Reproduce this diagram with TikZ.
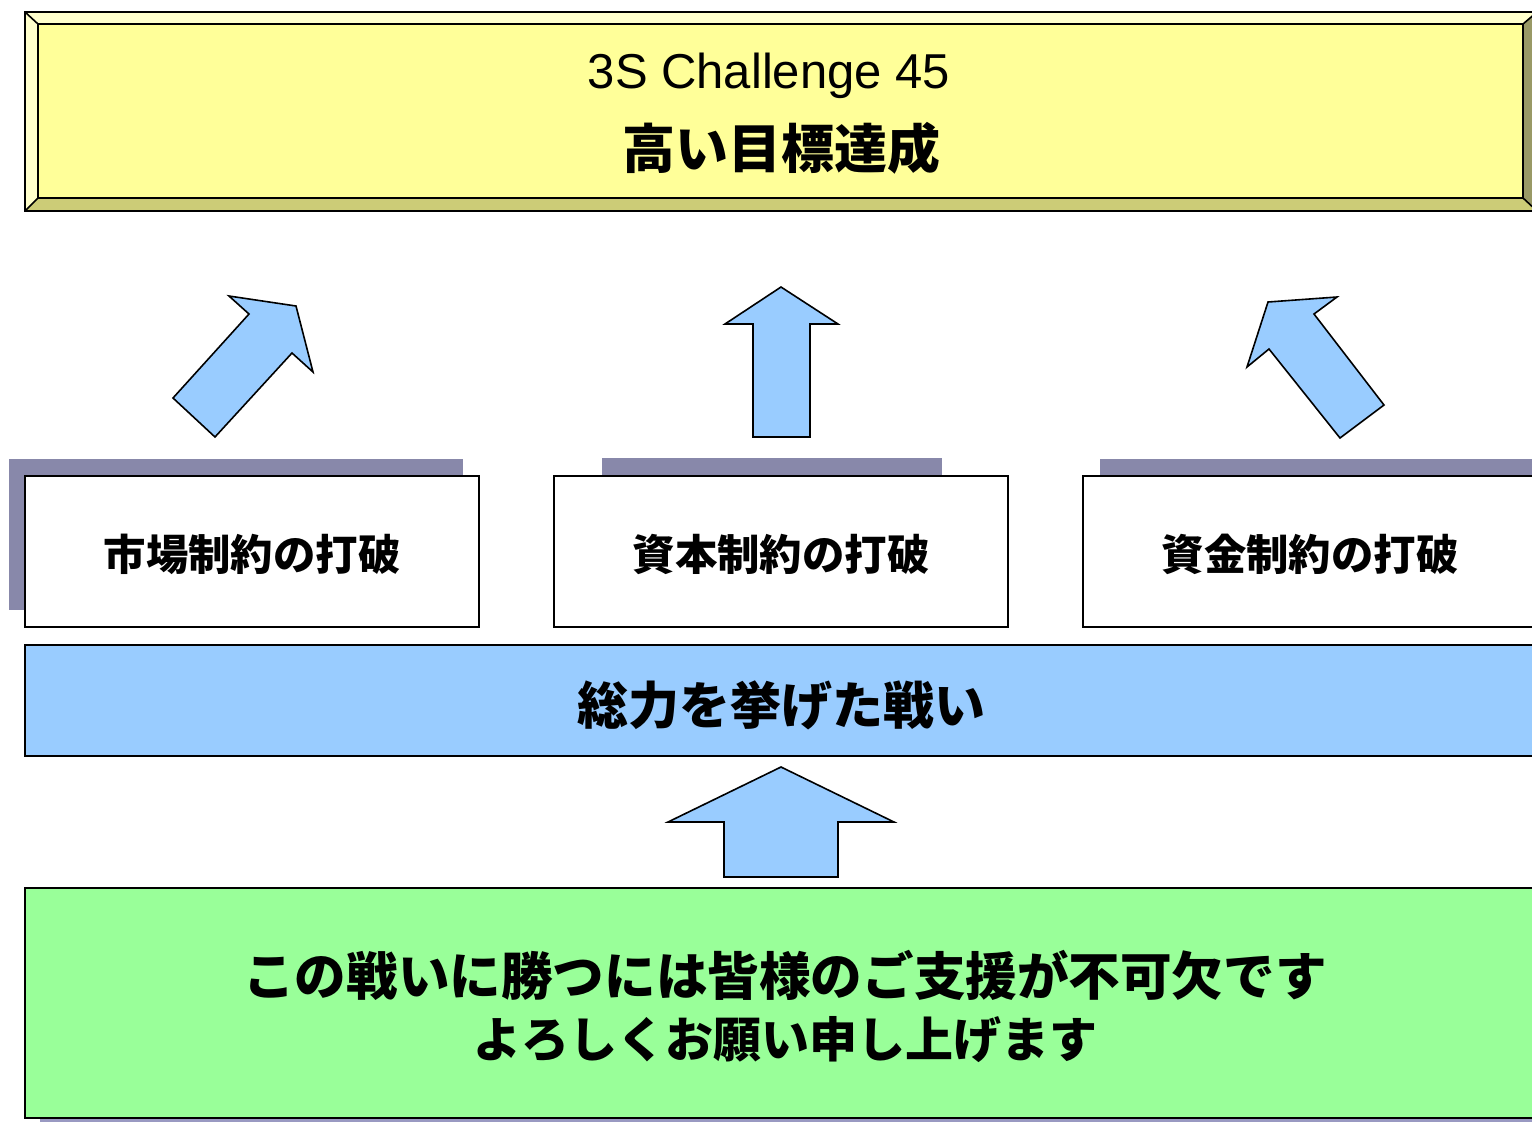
\documentclass[tikz,border=0pt]{standalone}
\usepackage{fontspec}
\setmainfont{Liberation Sans}
\newfontfamily\cjk{Noto Sans CJK JP}
\definecolor{topfill}{HTML}{FFFF99}
\definecolor{bevlight}{HTML}{FFFFCC}
\definecolor{bevbottom}{HTML}{CCCC77}
\definecolor{bevright}{HTML}{999966}
\definecolor{shadowc}{HTML}{8888AA}
\definecolor{barblue}{HTML}{99CCFF}
\definecolor{greenfill}{HTML}{99FF99}
\begin{document}
\begin{tikzpicture}[x=0.5pt,y=-0.5pt,
  edge/.style={draw=black,line width=1pt},
  whitebox/.style={edge,fill=white},
  blockarrow/.style={draw=black,line width=0.8pt,fill=barblue,line join=miter},
  jptext/.style={font=\cjk\bfseries\fontsize{21.2}{25}\selectfont,inner sep=0pt},
  bigjp/.style={font=\cjk\bfseries\fontsize{25.5}{31}\selectfont,inner sep=0pt,align=center}]
\useasboundingbox (0,0) rectangle (1532,1121);
\clip (0,0) rectangle (1532,1121);
% top beveled box
\fill[bevlight] (25,12) -- (1537,12) -- (1523,24) -- (38,24) -- (38,198) -- (25,211) -- cycle;
\fill[bevbottom] (25,211) -- (38,198) -- (1523,198) -- (1537,211) -- cycle;
\fill[bevright] (1537,12) -- (1523,24) -- (1523,198) -- (1537,211) -- cycle;
\fill[topfill] (38,24) rectangle (1523,198);
\draw[edge] (25,12) rectangle (1537,211);
\draw[line width=0.8pt] (38,24) rectangle (1523,198);
\draw[line width=0.8pt] (25,12) -- (38,24) (1537,12) -- (1523,24) (25,211) -- (38,198) (1537,211) -- (1523,198);
\node[font=\fontsize{24.5}{28}\selectfont,inner sep=0pt] (title) at (769,76) {3S Challenge 45};
\node[bigjp,font=\cjk\bfseries\fontsize{26.5}{31}\selectfont] (goal) at (781,148) {高い目標達成};
% arrows to the top
\draw[blockarrow] (173,398) -- (215,437) -- (292,353) -- (313,372) -- (296,306) -- (229,296) -- (249,314) -- cycle;
\draw[blockarrow] (753,437) -- (810,437) -- (810,324) -- (838,324) -- (781,287) -- (725,324) -- (753,324) -- cycle;
\draw[blockarrow] (1340,438) -- (1384,405) -- (1314,314) -- (1337,297) -- (1268,302) -- (1247,367) -- (1269,349) -- cycle;
% shadows of the middle boxes
\fill[shadowc] (9,459) rectangle (463,610);
\fill[shadowc] (602,458) rectangle (942,476);
\fill[shadowc] (1100,459) rectangle (1548,476);
% middle boxes
\draw[whitebox] (25,476) rectangle (479,627);
\draw[whitebox] (554,476) rectangle (1008,627);
\draw[whitebox] (1083,476) rectangle (1548,627);
\node[jptext] (m1) at (252,554) {市場制約の打破};
\node[jptext] (m2) at (781,554) {資本制約の打破};
\node[jptext] (m3) at (1310,554) {資金制約の打破};
% blue bar
\draw[edge,fill=barblue] (25,645) rectangle (1548,756);
\node[bigjp] (fight) at (781,705) {総力を挙げた戦い};
% bottom arrow
\draw[blockarrow] (724,877) -- (838,877) -- (838,822) -- (894,822) -- (781,767) -- (668,822) -- (724,822) -- cycle;
% green box
\fill[black!60!blue!40] (40,902) rectangle (1560,1135);
\draw[edge,fill=greenfill] (25,888) rectangle (1548,1118);
\node[bigjp,font=\cjk\bfseries\fontsize{25.8}{31}\selectfont] (support1) at (785,975) {この戦いに勝つには皆様のご支援が不可欠です};
\node[bigjp,font=\cjk\bfseries\fontsize{24}{31}\selectfont] (support2) at (785,1040) {よろしくお願い申し上げます};
\end{tikzpicture}
\end{document}
